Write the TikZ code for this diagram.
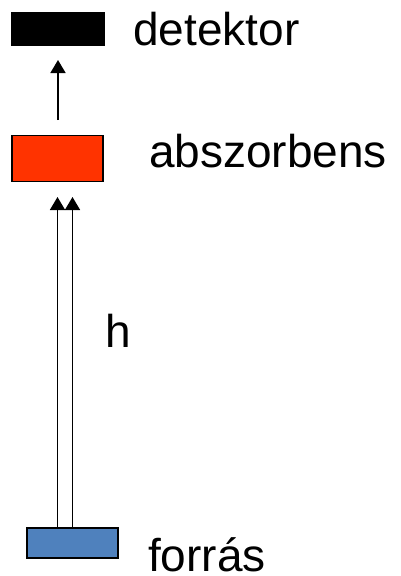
\documentclass[tikz,border=0pt]{standalone}
\usepackage{fontspec}
\setmainfont{Liberation Sans}
\usetikzlibrary{arrows.meta}
\definecolor{detblack}{RGB}{0,0,0}
\definecolor{absred}{RGB}{255,51,0}
\definecolor{srcblue}{RGB}{79,129,189}
\begin{document}
\begin{tikzpicture}[x=1pt,y=-1pt,
  box/.style={draw=black,line width=1.2pt,inner sep=0pt,outer sep=0pt},
  label/.style={anchor=base west,inner sep=0pt,text depth=0pt,font=\fontsize{46}{50}\selectfont},
  ray/.style={line width=1.6pt,-{Triangle[width=15pt,length=13pt]}}]
  \useasboundingbox (0,0) rectangle (400,576);
  % the three stages of the set-up
  \node[box,fill=detblack,minimum width=92pt,minimum height=32pt] (det) at (58,29) {};
  \node[box,fill=absred,minimum width=91pt,minimum height=46pt] (abs) at (57.5,158.5) {};
  \node[box,fill=srcblue,minimum width=91pt,minimum height=30pt] (src) at (72.5,543) {};
  % labels
  \node[label] (tdet) at (133,45) {detektor};
  \node[label] (tabs) at (149,167) {abszorbens};
  \node[label] (tsrc) at (148,571) {forrás};
  \node[label] (th) at (105,347) {h};
  % light paths
  \coordinate (s1) at (57.5,528);
  \coordinate (s2) at (72.5,528);
  \coordinate (a1) at (57.5,197);
  \coordinate (a2) at (72.5,197);
  \draw[ray] (s1) -- (a1);
  \draw[ray] (s2) -- (a2);
  \coordinate (o1) at (58,120);
  \coordinate (d1) at (58,60);
  \draw[ray] (o1) -- (d1);
\end{tikzpicture}
\end{document}
